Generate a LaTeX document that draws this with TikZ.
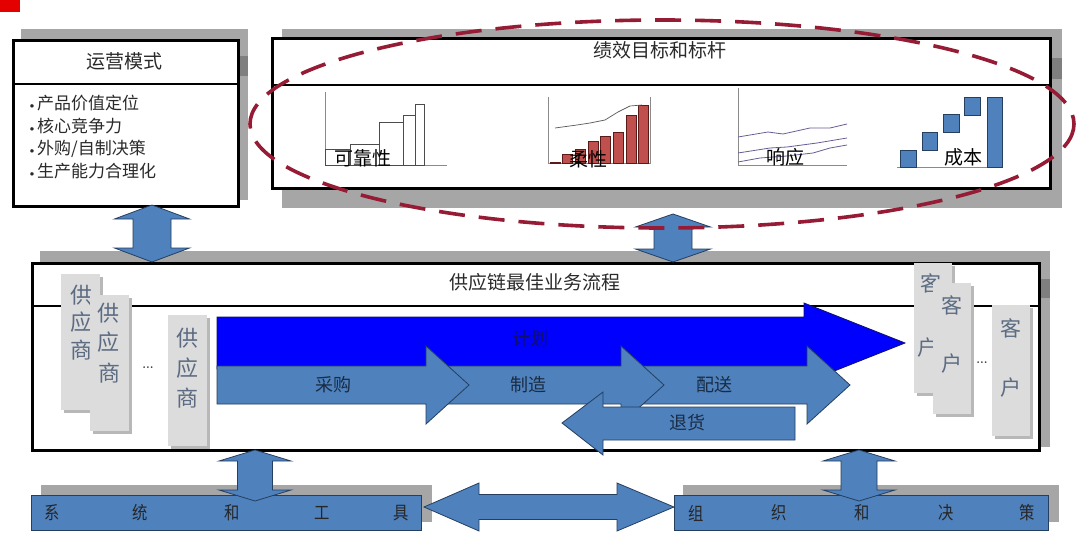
\documentclass[tikz,border=0pt]{standalone}
\usepackage{fontspec}
\newfontfamily\cjk{Noto Sans CJK SC}
\usetikzlibrary{calc,fit}
\definecolor{steel}{HTML}{4F81BD}
\definecolor{steelline}{HTML}{243F60}
\definecolor{planblue}{HTML}{0000FF}
\definecolor{planline}{HTML}{10106A}
\definecolor{shadowgray}{HTML}{A6A6A6}
\definecolor{darkstrip}{HTML}{7F7F7F}
\definecolor{cardgray}{HTML}{DCDCDC}
\definecolor{cardshadow}{HTML}{B8B8B8}
\definecolor{cardtext}{HTML}{5B6B82}
\definecolor{ellred}{HTML}{951C34}
\definecolor{barred}{HTML}{C0504D}
\definecolor{barline}{HTML}{5A1A1A}
\definecolor{txt}{HTML}{2A2A2A}
\definecolor{resp}{HTML}{6B5B95}
\definecolor{axisgray}{HTML}{8A8A8A}
\newcommand\vdarr[6]{\filldraw[blockarrow] (#1,#2) -- ({#1+#4},{#2+#6}) -- ({#1+#5},{#2+#6}) -- ({#1+#5},{#3-#6}) -- ({#1+#4},{#3-#6}) -- (#1,#3) -- ({#1-#4},{#3-#6}) -- ({#1-#5},{#3-#6}) -- ({#1-#5},{#2+#6}) -- ({#1-#4},{#2+#6}) -- cycle;}
\newcommand\mycard[5]{\fill[cardshadow] ({#2+3},{#3+3}) rectangle ({#4+3},{#5+3}); \node[cardnode, fit={(#2,#3) (#4,#5)}] (#1) {};}
\newcommand\bul{{\normalfont\fontsize{13}{13}\selectfont\textbullet}}
\begin{document}
\begin{tikzpicture}[x=1pt,y=-1pt,
  shadowbox/.style={fill=shadowgray, draw=none},
  stripbox/.style={fill=darkstrip, draw=none},
  framebox/.style={draw=black, line width=3pt, fill=white, inner sep=0pt, anchor=north west},
  divider/.style={draw=black, line width=2.6pt},
  blockarrow/.style={fill=steel, draw=steelline, line width=0.8pt, line join=miter},
  planarrow/.style={fill=planblue, draw=planline, line width=0.8pt},
  cardnode/.style={fill=cardgray, draw=none, inner sep=0pt},
  t19/.style={font=\cjk\fontsize{19}{22}\selectfont, text=txt, inner sep=0pt},
  t17/.style={font=\cjk\fontsize{17}{20}\selectfont, text=txt, inner sep=0pt},
  lab/.style={font=\cjk\fontsize{18}{20}\selectfont, text=steelline!70!black, inner sep=0pt},
  cardch/.style={font=\cjk\fontsize{22}{24}\selectfont, text=cardtext, inner sep=0pt},
  custch/.style={font=\cjk\fontsize{21}{24}\selectfont, text=cardtext, inner sep=0pt},
  botch/.style={font=\cjk\fontsize{18}{20}\selectfont, text=black!85, inner sep=0pt, xscale=0.85},
  chartlab/.style={font=\cjk\fontsize{19}{22}\selectfont, text=black, inner sep=0pt},
  axis/.style={draw=axisgray, line width=0.7pt},
  outbar/.style={draw=black!70, line width=0.6pt, fill=white},
  redbar/.style={fill=barred, draw=barline, line width=0.5pt},
  bluebar/.style={fill=steel, draw=steelline, line width=0.6pt},
  respline/.style={draw=resp, line width=0.8pt},
  dots/.style={font=\bfseries\fontsize{12}{12}\selectfont, text=black!80, inner sep=0pt}
]
\useasboundingbox (0,0) rectangle (1080,543);
\fill[white] (0,0) rectangle (1080,543);
% red mark
\fill[red!90!black] (0,0) rectangle (20,12);

% ===== shadows =====
\fill[shadowbox] (21,29) rectangle (248,200);
\fill[stripbox] (237,56) rectangle (248,76);
\fill[shadowbox] (282,29) rectangle (1062,208);
\fill[stripbox] (1049,58) rectangle (1062,79);
\fill[shadowbox] (40,251) rectangle (1050,447);
\fill[stripbox] (1038,279) rectangle (1050,298);
\fill[shadowbox] (41,485) rectangle (432,522);
\fill[shadowbox] (683,485) rectangle (1059,522);

% ===== operating model box =====
\node[framebox, minimum width=225, minimum height=166] (op) at (12,39) {};
\draw[divider] (op.west |- 0,84) -- (op.east |- 0,84);
\node[t19] (optitle) at (124,61) {运营模式};
\node[t17, anchor=west] (op1) at (27,103) {\bul 产品价值定位};
\node[t17, anchor=west] (op2) at (27,126) {\bul 核心竞争力};
\node[t17, anchor=west] (op3) at (27,149) {\bul 外购/自制决策};
\node[t17, anchor=west] (op4) at (27,171) {\bul 生产能力合理化};

% ===== performance box =====
\node[framebox, minimum width=778, minimum height=150] (perf) at (271,37) {};
\draw[divider] (perf.west |- 0,85) -- (perf.east |- 0,85);
\node[t19] (perftitle) at (660,50) {绩效目标和标杆};

% chart: reliability
\draw[axis] (325,92) -- (325,165) -- (447,165);
\draw[outbar] (325,149) rectangle (350,165);
\draw[outbar] (350,144) rectangle (379,165);
\draw[outbar] (379,122) rectangle (403,165);
\draw[outbar] (403,115) rectangle (415,165);
\draw[outbar] (415,104) rectangle (424,165);
\node[chartlab] (c1) at (363,158) {可靠性};

% chart: flexibility
\draw[axis] (548,97) -- (548,163) -- (650,163) -- (650,97);
\foreach \xa/\top in {550/162,562/154,575/149,588/141,600/136,613/132,626/115,638/105}
  \draw[redbar] (\xa,\top) rectangle ({\xa+10},163);
\draw[draw=black!65, line width=0.7pt] (555,128) -- (577,125) -- (590,123) -- (605,120) -- (618,112) -- (630,106) -- (642,105);
\node[chartlab] (c2) at (588,159) {柔性};

% chart: response
\draw[axis] (738,88) -- (738,165) -- (847,165);
\draw[respline] (738,137) -- (768,132) -- (783,134) -- (810,128) -- (830,128) -- (847,124);
\draw[respline] (738,153) -- (770,148) -- (787,147) -- (817,143) -- (847,138);
\draw[respline] (738,162) -- (760,158) -- (787,156) -- (813,153) -- (830,148) -- (847,145);
\node[chartlab] (c3) at (785,157) {响应};

% chart: cost
\draw[axis] (897,167) -- (1003,167);
\draw[bluebar] (900,150) rectangle (916,167);
\draw[bluebar] (922,132) rectangle (937,150);
\draw[bluebar] (943,114) rectangle (959,132);
\draw[bluebar] (964,97) rectangle (980,115);
\draw[bluebar] (987,97) rectangle (1002,167);
\node[chartlab] (c4) at (963,157) {成本};

% ===== process box =====
\node[framebox, minimum width=1007, minimum height=187] (proc) at (31,262) {};
\draw[divider] (proc.west |- 0,306) -- (proc.east |- 0,306);
\node[t19] (proctitle) at (535,282) {供应链最佳业务流程};

% supplier cards
\mycard{s1}{61}{274}{100}{410}
\node[cardch] at (81,295) {供};
\node[cardch] at (81,322) {应};
\node[cardch] at (81,350) {商};
\mycard{s2}{90}{295}{129}{431}
\node[cardch] at (108,313) {供};
\node[cardch] at (108,342) {应};
\node[cardch] at (109,373) {商};
\node[dots] (sdots) at (148,368) {...};
\mycard{s3}{168}{315}{207}{446}
\node[cardch] at (187,338) {供};
\node[cardch] at (187,368) {应};
\node[cardch] at (187,398) {商};

% customer cards
\mycard{k1}{914}{263}{952}{393}
\node[custch] at (931,283) {客};
\node[custch] at (928,348) {户};
\mycard{k2}{933}{283}{971}{414}
\node[custch] at (952,305) {客};
\node[custch] at (952,364) {户};
\node[dots] (kdots) at (982,363) {...};
\mycard{k3}{992}{305}{1030}{436}
\node[custch] at (1011,328) {客};
\node[custch] at (1011,388) {户};

% plan arrow
\filldraw[planarrow] (217,317) -- (804,317) -- (804,303) -- (905,343) -- (804,383) -- (804,369) -- (217,369) -- cycle;
\node[lab, text=planline] (plan) at (530,339) {计划};

% process arrows
\filldraw[blockarrow] (621,366) -- (807,366) -- (807,346) -- (850,385) -- (807,424) -- (807,404) -- (621,404) -- cycle;
\filldraw[blockarrow] (426,366) -- (621,366) -- (621,346) -- (664,385) -- (621,424) -- (621,404) -- (426,404) -- cycle;
\filldraw[blockarrow] (217,366) -- (426,366) -- (426,346) -- (469,385) -- (426,424) -- (426,404) -- (217,404) -- cycle;
\node[lab] (buy) at (333,385) {采购};
\node[lab] (make) at (528,385) {制造};
\node[lab] (deliver) at (714,385) {配送};
\filldraw[blockarrow] (795,407) -- (603,407) -- (603,392) -- (562,423) -- (603,455) -- (603,440) -- (795,440) -- cycle;
\node[lab] (ret) at (687,423) {退货};

% ===== bottom boxes =====
\node[framebox, draw=steelline, line width=1pt, fill=steel, minimum width=390, minimum height=35] (sys) at (31,495) {};
\node[botch] at (52,513) {系};
\node[botch] at (140,513) {统};
\node[botch] at (232,513) {和};
\node[botch] at (322,513) {工};
\node[botch] at (401,513) {具};
\node[framebox, draw=steelline, line width=1pt, fill=steel, minimum width=374, minimum height=35] (org) at (674,495) {};
\node[botch] at (696,513) {组};
\node[botch] at (779,513) {织};
\node[botch] at (862,513) {和};
\node[botch] at (946,513) {决};
\node[botch] at (1027,513) {策};

% ===== connectors (block double arrows) =====
\vdarr{152}{205}{262}{37.5}{19}{14}
\vdarr{673}{214}{262}{37.5}{19}{13}
\vdarr{255}{450}{501}{36}{17.5}{11}
\vdarr{859}{450}{501}{36}{18}{11}
\filldraw[blockarrow] (424,507) -- (479,483) -- (479,494.5) -- (617,494.5) -- (617,483) -- (674,507) -- (617,531) -- (617,519.5) -- (479,519.5) -- (479,531) -- cycle;

% ===== dashed ellipse =====
\draw[ellred, line width=3.6pt, dash pattern=on 26pt off 14pt] (662,124) ellipse [x radius=412, y radius=104];
\end{tikzpicture}
\end{document}
